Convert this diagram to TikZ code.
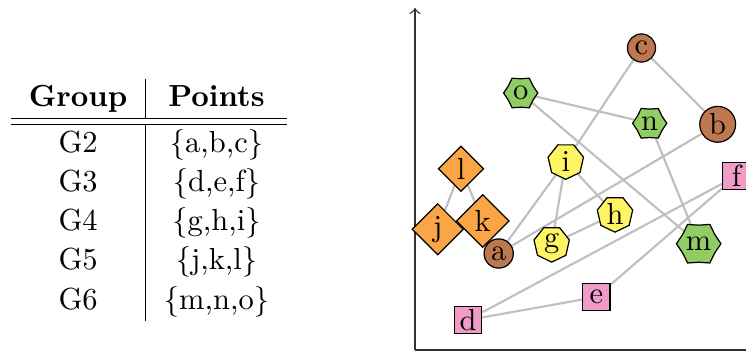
\documentclass[tikz,border=0pt]{standalone}
\usetikzlibrary{shapes.geometric,backgrounds}
\definecolor{cbrown}{RGB}{190,120,80}
\definecolor{corange}{RGB}{250,165,70}
\definecolor{cgreen}{RGB}{145,205,100}
\definecolor{cyellow}{RGB}{255,245,100}
\definecolor{cpink}{RGB}{240,155,200}
\begin{document}
\begin{tikzpicture}[x=0.328pt,y=-0.328pt,
  pt/.style={draw=black, line width=0.4pt, inner sep=1pt},
  circ/.style={pt,circle,fill=cbrown},
  sq/.style={pt,rectangle,minimum size=9pt,fill=cpink},
  dia/.style={pt,diamond,aspect=1,inner sep=1.3pt,fill=corange},
  hept/.style={pt,regular polygon,regular polygon sides=7,shape border rotate=180,minimum size=11.9pt,inner sep=0pt,fill=cyellow},
  hexs/.style={pt,star,star points=6,star point ratio=1.2,shape border rotate=90,inner sep=0pt,fill=cgreen},
  link/.style={draw=gray!50,line width=0.7pt},
  axisline/.style={draw=black!80,line width=0.45pt}]
\useasboundingbox (0,0) rectangle (746,354);
% table
\node[anchor=north west, inner sep=0pt] (tab) at (10,78) {%
\renewcommand{\arraystretch}{1.07}%
\begin{tabular}{c|c}
\textbf{Group} & \textbf{Points}\\ \hline\hline
G2 & \{a,b,c\}\\
G3 & \{d,e,f\}\\
G4 & \{g,h,i\}\\
G5 & \{j,k,l\}\\
G6 & \{m,n,o\}
\end{tabular}};
% axes
\coordinate (origin) at (415,350);
\coordinate (ytop) at (415,8);
\coordinate (xend) at (780,350);
\draw[axisline,->] (origin) -- (ytop);
\draw[axisline] (origin) -- (xend);
% nodes
\node[circ] (a) at (498.7,253.5) {a};
\node[circ] (b) at (717.7,124.3) {b};
\node[circ] (c) at (641.5,48) {c};
\node[sq] (d) at (468,320) {d};
\node[sq] (e) at (596.3,297) {e};
\node[sq] (f) at (736.5,176) {f};
\node[hept] (g) at (551.7,244) {g};
\node[hept] (h) at (615,214) {h};
\node[hept] (i) at (565.8,161.2) {i};
\node[dia] (j) at (437.7,229.3) {j};
\node[dia] (k) at (482.8,221) {k};
\node[dia] (l) at (461,168.8) {l};
\node[hexs,minimum size=14.6pt] (m) at (698.7,243.7) {m};
\node[hexs,minimum size=11.2pt] (n) at (649.7,123.3) {n};
\node[hexs,minimum size=11.2pt] (o) at (520.7,93) {o};
% links
\begin{scope}[on background layer]
\draw[link] (c) -- (b);
\draw[link] (c) -- (i);
\draw[link] (o) -- (n);
\draw[link] (o) -- (m);
\draw[link] (n) -- (m);
\draw[link] (b) -- (a);
\draw[link] (i) -- (a);
\draw[link] (i) -- (g);
\draw[link] (i) -- (h);
\draw[link] (g) -- (h);
\draw[link] (l) -- (j);
\draw[link] (l) -- (k);
\draw[link] (d) -- (e);
\draw[link] (d) -- (f);
\draw[link] (e) -- (f);
\end{scope}
\end{tikzpicture}
\end{document}
